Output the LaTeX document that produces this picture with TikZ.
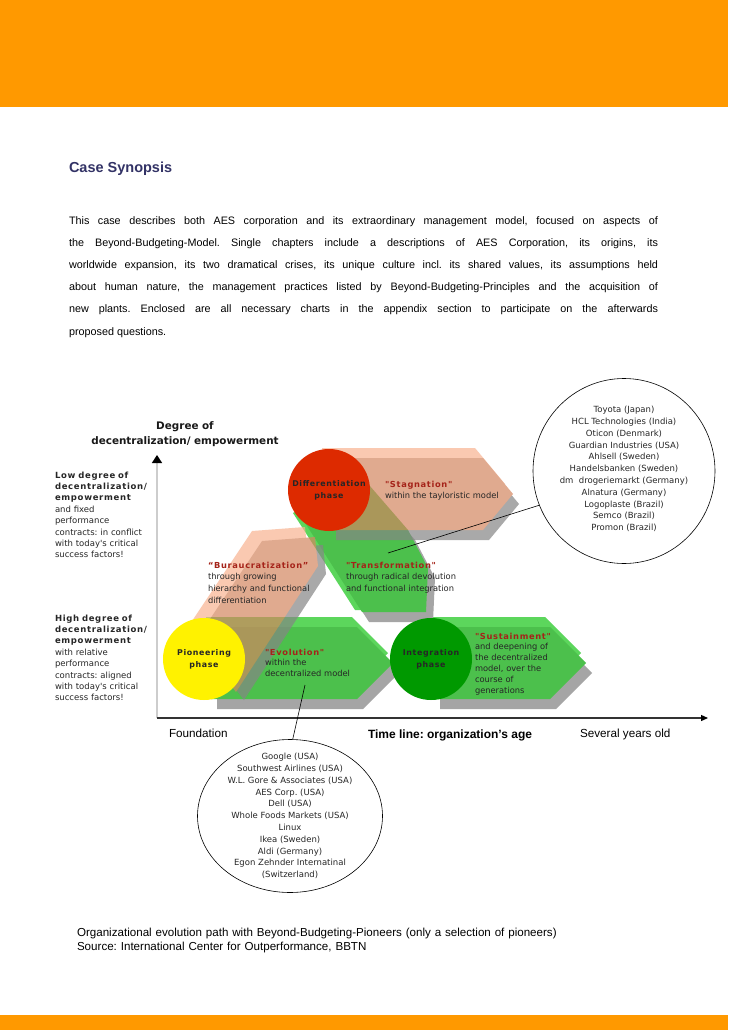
\documentclass[tikz,border=0pt]{standalone}
\usepackage{fontspec}
\usepackage{xcolor}
\usepackage{tikz}
\usetikzlibrary{arrows.meta, shapes.geometric}

\setmainfont{Liberation Sans}
\newfontfamily\verd{DejaVu Sans}
\newfontfamily\verdsp[LetterSpace=8]{DejaVu Sans}
\frenchspacing

\definecolor{barorange}{RGB}{255,153,0}
\definecolor{headblue}{RGB}{51,51,102}
\definecolor{peachlight}{RGB}{248,179,145}
\definecolor{peachmain}{RGB}{211,134,96}
\definecolor{shadegray}{RGB}{165,165,165}
\definecolor{shadedark}{RGB}{133,133,133}
\definecolor{greenlight}{RGB}{92,214,92}
\definecolor{greenmain}{RGB}{76,192,76}
\definecolor{greendark}{RGB}{0,153,0}
\definecolor{phasered}{RGB}{221,42,0}
\definecolor{titlered}{RGB}{165,35,25}
\definecolor{axisgray}{RGB}{205,205,205}

\newcommand{\phasetitle}[1]{\textcolor{titlered}{\verdsp\bfseries #1}}

\begin{document}
\begin{tikzpicture}[
		x=1pt, y=-1pt,
		every node/.style={inner sep=0pt, outer sep=0pt},
		phase/.style={circle, minimum size=82pt, align=center, text=black!85, font=\verdsp\bfseries\fontsize{7.9}{12}\selectfont},
		arrow text/.style={anchor=base west, align=left, text width=150pt, text=black!85, font=\verd\fontsize{8.3}{11.8}\selectfont},
		side text/.style={anchor=base west, align=left, text width=100pt, text=black!85, font=\verd\fontsize{8.5}{11.4}\selectfont},
		list ellipse/.style={ellipse, draw, line width=0.6pt},
		list text/.style={align=center, text=black!85, font=\verd\fontsize{8.5}{11.8}\selectfont},
		axis label/.style={anchor=base west, font=\fontsize{11.7}{14}\selectfont},
		connector/.style={line width=0.6pt}
		]

	% Page
	\useasboundingbox (0,0) rectangle (728,1030);
	\fill[white] (0,0) rectangle (728,1030);
	\fill[barorange] (0,0) rectangle (728,107);
	\fill[barorange] (0,1015) rectangle (728,1030);

	% Synopsis
	\node[anchor=base west, text=headblue, font=\bfseries\fontsize{14.5}{16}\selectfont] (heading) at (69,172) {Case Synopsis};
	\node[anchor=base west, text width=589pt, align=justify, font=\fontsize{10.8}{22.2}\selectfont] (synopsis) at (69,224) {\hyphenpenalty=10000 \exhyphenpenalty=10000
		This case describes both AES corporation and its extraordinary management model, focused on aspects of\linebreak
		the Beyond-Budgeting-Model. Single chapters include a descriptions of AES Corporation, its origins, its\linebreak
		worldwide expansion, its two dramatical crises, its unique culture incl. its shared values, its assumptions held\linebreak
		about human nature, the management practices listed by Beyond-Budgeting-Principles and the acquisition of\linebreak
		new plants. Enclosed are all necessary charts in the appendix section to participate on the afterwards\linebreak
		proposed questions.};

	% Axes
	\coordinate (origin) at (157,718);
	\coordinate (ytop) at (157,455);
	\coordinate (xend) at (708,718);
	\draw[axisgray, line width=1.5pt, -{Triangle[length=8pt, width=10pt, color=black]}] (origin) -- (ytop);
	\draw[black!80, line width=1.2pt, -{Triangle[length=7pt, width=6pt, color=black]}] (origin) -- (xend);

	% Evolution
	\foreach \dx/\dy/\col in {6/10/shadegray, -5/-10/greenlight, 0/0/greenmain}{
		\fill[\col, shift={(\dx,\dy)}] (211,627) -- (357,627) -- (393,663) -- (357,699) -- (211,699) -- cycle;
	}

	% Sustainment
	\foreach \dx/\dy/\col in {6/10/shadegray, -5/-10/greenlight, 0/0/greenmain}{
		\fill[\col, shift={(\dx,\dy)}] (434,627) -- (550,627) -- (586,663) -- (550,699) -- (434,699) -- cycle;
	}

	% Transformation
	\foreach \dx/\dy/\col in {7/10/shadegray, -7/-2/greenlight, 0/0/greenmain}{
		\fill[\col, shift={(\dx,\dy)}] (300,515) -- (363,478) -- (408,530) -- (428,568) -- (426,612) -- (362,612) -- cycle;
	}

	% Stagnation
	\begin{scope}[transparency group, opacity=0.7]
		\foreach \dx/\dy/\col in {6/10/shadedark, -8/-10/peachlight, 0/0/peachmain}{
			\fill[\col, shift={(\dx,\dy)}] (330,458) -- (483,458) -- (513,494) -- (483,530) -- (330,530) -- cycle;
		}
	\end{scope}

	% Buraucratization
	\begin{scope}[transparency group, opacity=0.7]
		\foreach \dx/\dy/\col in {8/8/shadedark, -10/-10/peachlight, 0/0/peachmain}{
			\fill[\col, shift={(\dx,\dy)}] (196,640) -- (262,541) -- (315,537) -- (318,566) -- (236,692) -- cycle;
		}
	\end{scope}

	% Phases
	\node[phase, fill=yellow] (pioneer) at (204,659) {Pioneering\\phase};
	\node[phase, fill=phasered] (differ) at (329,490) {Differentiation\\phase};
	\node[phase, fill=greendark] (integr) at (431,659) {Integration\\phase};

	% Arrow texts
	\node[arrow text] (stagtext) at (385,487) {\phasetitle{"Stagnation"}\\within the tayloristic model};
	\node[arrow text, font=\verd\fontsize{8.3}{11.7}\selectfont] (burtext) at (208,568) {\phasetitle{“Buraucratization”}\\through growing\\hierarchy and functional\\differentiation};
	\node[arrow text] (transtext) at (346,568) {\phasetitle{"Transformation"}\\through radical devolution\\and functional integration};
	\node[arrow text, font=\verd\fontsize{8.3}{10.6}\selectfont] (evotext) at (265,655) {\phasetitle{"Evolution"}\\within the\\decentralized model};
	\node[arrow text, font=\verd\fontsize{8.3}{10.8}\selectfont] (sustext) at (475,639) {\phasetitle{"Sustainment"}\\and deepening of\\the decentralized\\model, over the\\course of\\generations};

	% Axis texts
	\node[anchor=base, align=center, text width=230pt, text=black!90, font=\verd\bfseries\fontsize{10.4}{15}\selectfont] (ylabel) at (185,429) {Degree of\\decentralization/ empowerment};
	\node[side text] (lowtext) at (55,478) {{\verdsp\bfseries Low degree of\\decentralization/\\empowerment}\\and fixed\\performance\\contracts: in conflict\\with today's critical\\success factors!};
	\node[side text] (hightext) at (55,621) {{\verdsp\bfseries High degree of\\decentralization/\\empowerment}\\with relative\\performance\\contracts: aligned\\with today's critical\\success factors!};
	\node[axis label] (found) at (169,737) {Foundation};
	\node[axis label, font=\bfseries\fontsize{12}{14}\selectfont] (timeline) at (368,738) {Time line: organization's age};
	\node[axis label] (several) at (580,737) {Several years old};

	% Pioneer lists
	\node[list ellipse, minimum width=182pt, minimum height=185pt] (toplist) at (624,471) {};
	\node[list text] (topnames) at (624,469) {Toyota (Japan)\\HCL Technologies (India)\\Oticon (Denmark)\\Guardian Industries (USA)\\Ahlsell (Sweden)\\Handelsbanken (Sweden)\\dm\ \ drogeriemarkt (Germany)\\Alnatura (Germany)\\Logoplaste (Brazil)\\Semco (Brazil)\\Promon (Brazil)};
	\node[list ellipse, minimum width=185pt, minimum height=153pt] (botlist) at (290,816) {};
	\node[list text] (botnames) at (290,816) {Google (USA)\\Southwest Airlines (USA)\\W.L. Gore \& Associates (USA)\\AES Corp. (USA)\\Dell (USA)\\Whole Foods Markets (USA)\\Linux\\Ikea (Sweden)\\Aldi (Germany)\\Egon Zehnder Internatinal\\(Switzerland)};

	% Connectors
	\coordinate (transpt) at (388,553);
	\coordinate (evopt) at (305,685);
	\draw[connector] (transpt) -- (toplist.202);
	\draw[connector] (evopt) -- (botlist.88);

	% Caption
	\node[anchor=base west, align=left, text width=600pt, font=\fontsize{11.6}{14}\selectfont] (caption) at (77,936) {Organizational evolution path with Beyond-Budgeting-Pioneers (only a selection of pioneers)\\Source: International Center for Outperformance, BBTN};

\end{tikzpicture}
\end{document}
